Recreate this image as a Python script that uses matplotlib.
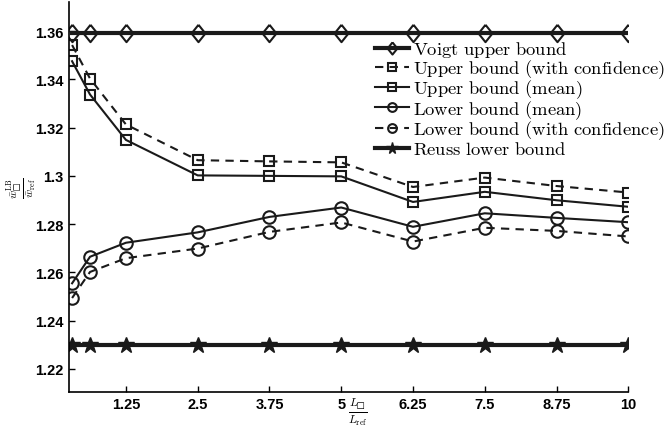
import matplotlib
matplotlib.use("Agg")
import matplotlib.pyplot as plt
from matplotlib.ticker import FuncFormatter
import numpy as np

plt.rcParams['mathtext.fontset'] = 'cm'

# tamaños de celda L/Lref
L_rel = [0.3125, 0.625, 1.25, 2.5, 3.75, 5, 6.25, 7.5, 8.75, 10]

voigt = [1.3590] * 10
ub_conf = [1.3542, 1.3403, 1.3213, 1.3065, 1.3060, 1.3056, 1.2954, 1.2993, 1.2958, 1.2931]
ub_mean = [1.3475, 1.3337, 1.3149, 1.3002, 1.3000, 1.2998, 1.2892, 1.2934, 1.2899, 1.2872]
lb_mean = [1.2555, 1.2665, 1.2723, 1.2766, 1.2830, 1.2869, 1.2789, 1.2845, 1.2826, 1.2808]
lb_conf = [1.2494, 1.2602, 1.2659, 1.2699, 1.2768, 1.2807, 1.2728, 1.2785, 1.2772, 1.2749]
reuss = [1.2298] * 10

x_ticks = [1.25, 2.5, 3.75, 5, 6.25, 7.5, 8.75, 10]
y_ticks = [1.22, 1.24, 1.26, 1.28, 1.30, 1.32, 1.34, 1.36]

labels = [r'$\mathrm{Voigt\ upper\ bound}$',
          r'$\mathrm{Upper\ bound\ (with\ confidence)}$',
          r'$\mathrm{Upper\ bound\ (mean)}$',
          r'$\mathrm{Lower\ bound\ (mean)}$',
          r'$\mathrm{Lower\ bound\ (with\ confidence)}$',
          r'$\mathrm{Reuss\ lower\ bound}$']

fig = plt.figure(figsize=(6.67, 4.39), dpi=100)
ax = fig.add_axes([0.1027, 0.1055, 0.8393, 0.8875])

k = '#1a1a1a'
dash = (0, (4, 3))
mk = dict(markerfacecolor='none', markeredgecolor=k, markeredgewidth=1.5)
rombo = [(0, 1), (0.8, 0), (0, -1), (-0.8, 0), (0, 1)]  # diamante algo achatado

ax.plot(L_rel, voigt, '-', color=k, lw=3, marker=rombo, markersize=12.5, label=labels[0], **mk)
ax.plot(L_rel, ub_conf, color=k, lw=1.5, ls=dash, marker='s', markersize=7.5, label=labels[1], **mk)
ax.plot(L_rel, ub_mean, '-', color=k, lw=1.5, marker='s', markersize=7.5, label=labels[2], **mk)
ax.plot(L_rel, lb_mean, '-', color=k, lw=1.5, marker='o', markersize=9, label=labels[3], **mk)
ax.plot(L_rel, lb_conf, color=k, lw=1.5, ls=dash, marker='o', markersize=9, label=labels[4], **mk)
ax.plot(L_rel, reuss, '-', color=k, lw=3, marker='*', markersize=12, markerfacecolor=k,
        markeredgecolor=k, label=labels[5])

ax.set_xlim(0.25, 10)
ax.set_ylim(1.2106, 1.372)
ax.set_xticks(x_ticks)
ax.set_yticks(y_ticks)
fmt = FuncFormatter(lambda v, p: '%g' % v)
ax.xaxis.set_major_formatter(fmt)
ax.yaxis.set_major_formatter(fmt)
ax.tick_params(direction='in', length=4, width=1, labelsize=10.5)
for t in ax.get_xticklabels() + ax.get_yticklabels():
    t.set_fontfamily('Liberation Sans')
    t.set_fontweight('bold')

for s in ['top', 'right']:
    ax.spines[s].set_visible(False)
for s in ['left', 'bottom']:
    ax.spines[s].set_linewidth(1.2)

ax.text(5.3, 1.2092, r'$\frac{L_□}{L_{\rm ref}}$', ha='center', va='top', fontsize=12)
ax.text(-0.56, 1.2953, r'$\frac{\bar{w}_□^{\rm LB}}{\bar{w}_{\rm ref}}$', ha='center', va='center',
        rotation=90, fontsize=11.5)

ax.legend(loc='upper left', bbox_to_anchor=(0.562, 0.908), bbox_transform=fig.transFigure,
          frameon=False, fontsize=13.4, markerscale=0.7, borderpad=0,
          handlelength=1.85, handletextpad=0.2, labelspacing=-0.12, borderaxespad=0)

fig.savefig('out.png', dpi=100)
